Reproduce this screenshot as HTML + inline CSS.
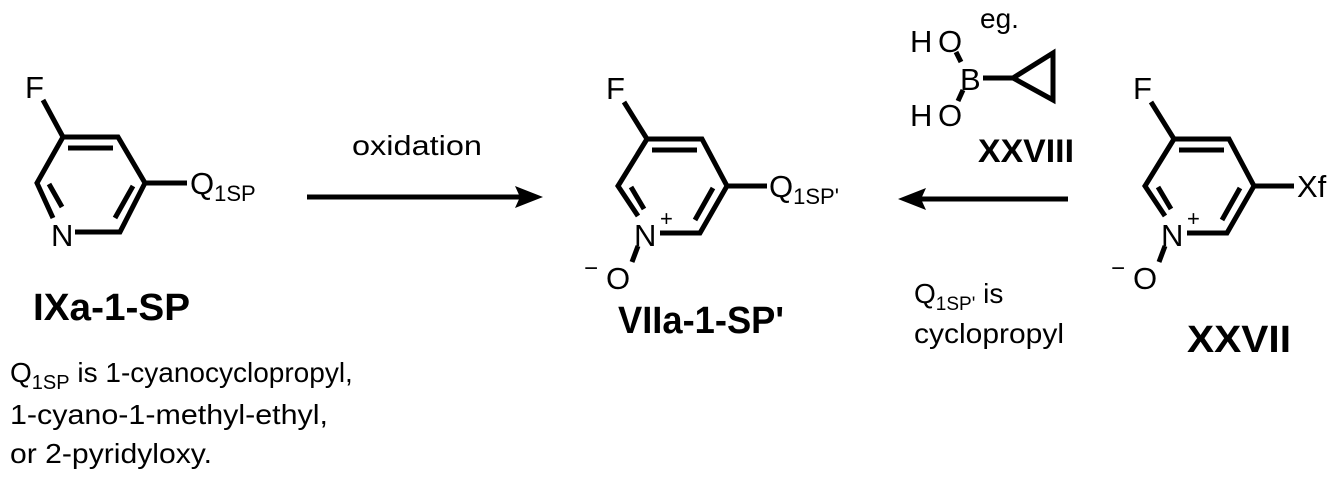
<!DOCTYPE html>
<html><head><style>body{margin:0;background:#fff}svg{display:block}</style></head><body>
<svg width="1344" height="481" viewBox="0 0 1344 481" xmlns="http://www.w3.org/2000/svg" font-family="Liberation Sans, Arial, sans-serif">
<g stroke="#000" stroke-width="5" fill="none" stroke-linecap="butt" stroke-linejoin="miter">
<path d="M43,100 L63,137 L118,137 L145,183 L120,232 L75,232"/>
<path d="M53,218 L37,183 L63,137"/>
<path d="M68,148 L113,148 M133,186 L115,218 M49,184 L62,207 M145,183 L187,183"/>
<path d="M624,102 L647,139 L702,139 L727,186 L700,233 L660,233"/>
<path d="M638,216 L618,186 L647,139"/>
<path d="M652,150 L697,150 M713,188 L695,220 M631,187 L644,209 M727,186 L767,186 M638,246 L632,262"/>
<path d="M1151,102 L1174,139 L1229,139 L1254,186 L1227,233 L1187,233"/>
<path d="M1165,216 L1145,186 L1174,139"/>
<path d="M1179,150 L1224,150 M1240,188 L1222,220 M1158,187 L1171,209 M1254,186 L1294,186 M1165,246 L1159,262"/>
<path d="M956,52 L961,62 M963,90 L958,101 M983,78 L1013,78"/>
<path d="M1013,78 L1053,53 L1053,100 Z"/>
<path d="M307,197 L520,197 M1068,199 L920,199"/>
</g>
<path d="M543,197 L515,186 L520,197 L515,208 Z" fill="#000"/>
<path d="M898,199 L926,188 L921,199 L926,210 Z" fill="#000"/>
<g fill="#000" font-size="31">
<text x="25" y="98">F</text>
<text x="51" y="246">N</text>
<text x="190" y="194">Q<tspan font-size="22" dy="7">1SP</tspan></text>
<text x="606" y="99">F</text>
<text x="634" y="246">N</text>
<text x="660" y="226" font-size="22">+</text>
<text x="769" y="197">Q<tspan font-size="22" dy="7">1SP'</tspan></text>
<text x="606" y="289">O</text>
<text x="584" y="276" font-size="24">−</text>
<text x="1133" y="99">F</text>
<text x="1161" y="246">N</text>
<text x="1187" y="226" font-size="22">+</text>
<text x="1297" y="197">Xf</text>
<text x="1133" y="289">O</text>
<text x="1111" y="276" font-size="24">−</text>
<text x="910" y="52">H</text><text x="938" y="52">O</text>
<text x="960" y="90">B</text>
<text x="910" y="126">H</text><text x="938" y="126">O</text>
<text x="980" y="28" font-size="28">eg.</text>
<text x="352" y="155" font-size="28" textLength="130" lengthAdjust="spacingAndGlyphs">oxidation</text>
<text x="914" y="303" font-size="28">Q<tspan font-size="19" dy="7">1SP'</tspan><tspan dy="-7"> is</tspan></text>
<text x="914" y="343" font-size="28" textLength="150" lengthAdjust="spacingAndGlyphs">cyclopropyl</text>
<text x="10" y="382" font-size="28">Q<tspan font-size="20" dy="7">1SP</tspan><tspan dy="-7"> is 1-cyanocyclopropyl,</tspan></text>
<text x="10" y="424" font-size="28" textLength="318" lengthAdjust="spacingAndGlyphs">1-cyano-1-methyl-ethyl,</text>
<text x="10" y="463" font-size="28" textLength="202" lengthAdjust="spacingAndGlyphs">or 2-pyridyloxy.</text>
</g>
<g fill="#000" font-weight="bold" font-size="38">
<text x="33" y="320" textLength="157" lengthAdjust="spacingAndGlyphs">IXa-1-SP</text>
<text x="618" y="333" textLength="166" lengthAdjust="spacingAndGlyphs">VIIa-1-SP'</text>
<text x="1187" y="352" textLength="104" lengthAdjust="spacingAndGlyphs">XXVII</text>
<text x="978" y="162" font-size="32" textLength="96" lengthAdjust="spacingAndGlyphs">XXVIII</text>
</g>
</svg>
</body></html>
